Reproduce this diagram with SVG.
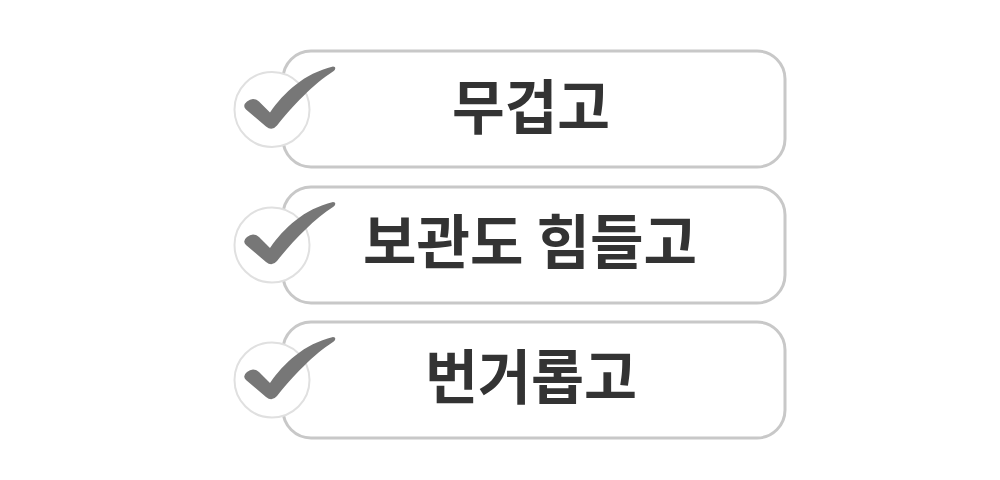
<svg xmlns="http://www.w3.org/2000/svg" width="1000" height="480" viewBox="0 0 1000 480">
<defs>
<style>
.box{fill:#fff;stroke:#c8c8c8;stroke-width:3}
.ring{fill:#fff;stroke:#e0e0e0;stroke-width:2}
.chk{fill:#777}
.lbl{font-family:"Noto Sans CJK KR","Noto Sans",sans-serif;font-weight:700;font-size:59px;fill:#333;text-anchor:middle}
</style>
<path id="check" class="chk" d="M -25,-8 Q -19,-13 -13,-8 L -2,3 C 12,-17 32,-36 61,-43 C 64,-43 64,-40 61,-38 C 42,-26 20,-3 5,16 Q 0,22 -6,17 L -26,0 Q -30,-4 -25,-8 Z"/>
</defs>
<rect width="1000" height="480" fill="#fff"/>
<g id="connectors"></g>
<g id="item1">
<rect class="box" x="283" y="51" width="502" height="116" rx="28"/>
<circle class="ring" cx="272" cy="109.5" r="37.5"/>
<use href="#check" x="272" y="109.5"/>
<text class="lbl" x="531" y="129" textLength="158" lengthAdjust="spacingAndGlyphs">무겁고</text>
</g>
<g id="item2">
<rect class="box" x="283" y="187" width="502" height="116" rx="28"/>
<circle class="ring" cx="272" cy="245" r="37.5"/>
<use href="#check" x="272" y="245"/>
<text class="lbl" x="530" y="264" textLength="334" lengthAdjust="spacingAndGlyphs">보관도 힘들고</text>
</g>
<g id="item3">
<rect class="box" x="283" y="322" width="502" height="116" rx="28"/>
<circle class="ring" cx="272" cy="380" r="37.5"/>
<use href="#check" x="272" y="380"/>
<text class="lbl" x="531" y="399" textLength="212" lengthAdjust="spacingAndGlyphs">번거롭고</text>
</g>
</svg>
